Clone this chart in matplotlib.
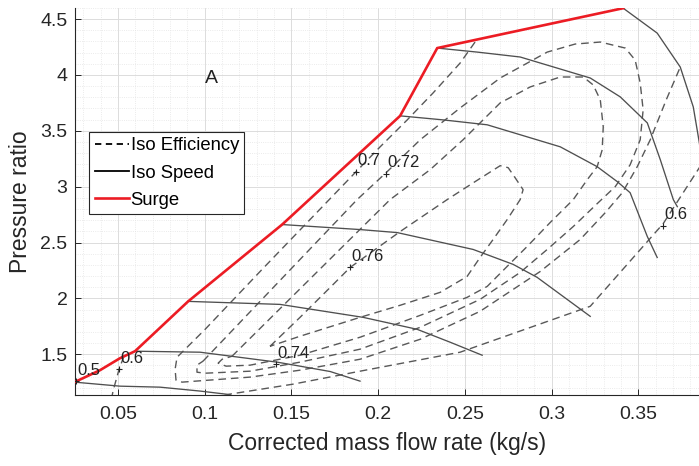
import matplotlib
matplotlib.use("Agg")
import matplotlib.pyplot as plt
from matplotlib.ticker import MultipleLocator

plt.rcParams['font.family'] = ['Liberation Sans', 'DejaVu Sans']

# ---------------- data ----------------
surge_x = [0.025, 0.0397, 0.0512, 0.0599, 0.0905, 0.1447, 0.2127, 0.2341, 0.3413]
surge_y = [1.25, 1.357, 1.464, 1.527, 1.973, 2.661, 3.634, 4.241, 4.598]

speed1_x = [0.025, 0.0512, 0.0743, 0.0974, 0.1147]
speed1_y = [1.25, 1.214, 1.205, 1.170, 1.138]
speed2_x = [0.0599, 0.0974, 0.1418, 0.155, 0.1724, 0.1896]
speed2_y = [1.527, 1.518, 1.429, 1.393, 1.345, 1.259]
speed3_x = [0.0905, 0.1435, 0.1914, 0.2225, 0.2416, 0.2600]
speed3_y = [1.973, 1.946, 1.830, 1.723, 1.607, 1.491]
speed4_x = [0.1447, 0.1896, 0.2110, 0.2548, 0.2779, 0.2917, 0.3223]
speed4_y = [2.661, 2.616, 2.589, 2.438, 2.304, 2.188, 1.839]
speed5_x = [0.2127, 0.2375, 0.2629, 0.3050, 0.3263, 0.3379, 0.3453, 0.3552, 0.3609]
speed5_y = [3.634, 3.598, 3.554, 3.357, 3.179, 3.045, 2.946, 2.554, 2.366]
speed6_x = [0.2341, 0.2571, 0.2819, 0.3223, 0.3396, 0.3552, 0.3627, 0.3702, 0.3725]
speed6_y = [4.241, 4.205, 4.161, 3.973, 3.804, 3.571, 3.241, 2.884, 2.821]
speed7_x = [0.3413, 0.3609, 0.3742, 0.3817, 0.3852, 0.3887]
speed7_y = [4.598, 4.375, 4.071, 3.714, 3.393, 2.99]

eff60a_x = [0.0535, 0.0507, 0.0472, 0.0461]
eff60a_y = [1.482, 1.366, 1.170, 1.080]
eff60b_x = [0.0974, 0.1147, 0.1510, 0.1896, 0.2473, 0.3223, 0.3644, 0.3852, 0.3944]
eff60b_y = [1.080, 1.143, 1.232, 1.348, 1.518, 1.929, 2.670, 3.170, 3.420]

eff70_x = [0.2559, 0.2473, 0.2317, 0.2168, 0.2012, 0.1873, 0.1331, 0.1003, 0.0876,
           0.0841, 0.0830, 0.0835, 0.0870, 0.1262, 0.1550, 0.1896, 0.2243, 0.2588,
           0.2935, 0.3165, 0.3310, 0.3408, 0.3494, 0.3569, 0.3661, 0.3742]
eff70_y = [4.295, 4.107, 3.839, 3.598, 3.357, 3.134, 2.259, 1.723, 1.527,
           1.473, 1.366, 1.268, 1.25, 1.295, 1.357, 1.455, 1.634, 1.884,
           2.241, 2.527, 2.768, 2.946, 3.179, 3.420, 3.777, 4.071]

eff72_x = [0.0991, 0.1879, 0.2046, 0.2243, 0.2473, 0.2704, 0.2975, 0.3136, 0.3281,
           0.3425, 0.3482, 0.3511, 0.3528, 0.3511, 0.3453, 0.3367, 0.3263, 0.3125,
           0.2975, 0.2819, 0.2588, 0.2243, 0.1896, 0.1550, 0.1262, 0.1003, 0.0956,
           0.0956, 0.0991]
eff72_y = [1.438, 2.884, 3.125, 3.420, 3.705, 3.973, 4.205, 4.277, 4.295,
           4.241, 4.134, 3.929, 3.688, 3.420, 3.196, 3.0, 2.848, 2.643,
           2.438, 2.232, 1.991, 1.741, 1.545, 1.429, 1.348, 1.330, 1.339,
           1.402, 1.438]

eff74_x = [0.1158, 0.2069, 0.2300, 0.2490, 0.2704, 0.2877, 0.3050, 0.3183, 0.3240,
           0.3281, 0.3298, 0.3292, 0.3263, 0.3206, 0.3125, 0.2992, 0.2859, 0.2744,
           0.2629, 0.2513, 0.2243, 0.1896, 0.1550, 0.1262, 0.1124, 0.1078, 0.1101,
           0.1158]
eff74_y = [1.482, 2.884, 3.152, 3.420, 3.750, 3.893, 3.982, 3.982, 3.911,
           3.777, 3.536, 3.330, 3.179, 3.063, 2.884, 2.679, 2.464, 2.286,
           2.107, 2.009, 1.848, 1.652, 1.491, 1.402, 1.393, 1.420, 1.455,
           1.482]

eff76_x = [0.1377, 0.1550, 0.1724, 0.1839, 0.2127, 0.2398, 0.2559, 0.2704, 0.2750,
           0.2790, 0.2836, 0.2819, 0.2744, 0.2663, 0.2588, 0.2513, 0.2358, 0.2127,
           0.1896, 0.1550, 0.1377]
eff76_y = [1.571, 1.830, 2.098, 2.277, 2.598, 2.884, 3.045, 3.188, 3.170,
           3.080, 2.973, 2.884, 2.705, 2.527, 2.366, 2.196, 2.054, 1.938,
           1.830, 1.661, 1.571]

eff_labels = ['0.5', '0.6', '0.7', '0.72', '0.74', '0.76', '0.6']
eff_label_x = [0.0259, 0.0507, 0.1873, 0.2046, 0.1412, 0.1839, 0.3644]
eff_label_y = [1.259, 1.366, 3.134, 3.116, 1.411, 2.277, 2.652]

x_ticks = [0.05, 0.1, 0.15, 0.2, 0.25, 0.3, 0.35]
x_ticklabels = ['0.05', '0.1', '0.15', '0.2', '0.25', '0.3', '0.35']
y_ticks = [1.5, 2, 2.5, 3, 3.5, 4, 4.5]
y_ticklabels = ['1.5', '2', '2.5', '3', '3.5', '4', '4.5']

# ---------------- figure ----------------
fig = plt.figure(figsize=(6.99, 4.66), dpi=100)
ax = fig.add_axes([0.1066, 0.1524, 0.8934, 0.8305])

dash_col = '#585858'
dash_style = dict(color=dash_col, lw=1.0, linestyle=(0, (5.5, 3.5)), zorder=3)
for xs, ys in [(eff60a_x, eff60a_y), (eff60b_x, eff60b_y), (eff70_x, eff70_y),
               (eff72_x, eff72_y), (eff74_x, eff74_y), (eff76_x, eff76_y)]:
    ax.plot(xs, ys, **dash_style)

speed_col = '#4f4f4f'
for xs, ys in [(speed1_x, speed1_y), (speed2_x, speed2_y), (speed3_x, speed3_y),
               (speed4_x, speed4_y), (speed5_x, speed5_y), (speed6_x, speed6_y),
               (speed7_x, speed7_y)]:
    ax.plot(xs, ys, color=speed_col, lw=0.95, zorder=4)

ax.plot(surge_x, surge_y, color='#ec1c24', lw=1.9, zorder=5)

# legend proxies
ax.plot([], [], color='black', lw=1.3, linestyle=(0, (3.5, 2.5)), label='Iso Efficiency')
ax.plot([], [], color='black', lw=1.3, label='Iso Speed')
ax.plot([], [], color='#ec1c24', lw=1.9, label='Surge')

# efficiency labels with + markers
ax.plot(eff_label_x, eff_label_y, linestyle='none', marker='+', ms=4, mew=0.8,
        color='#222222', zorder=6)
for t, lx, ly in zip(eff_labels, eff_label_x, eff_label_y):
    ax.annotate(t, (lx, ly), xytext=(1, 8), textcoords='offset points',
                fontsize=12, color='#222222', ha='left', va='center', zorder=7)

ax.text(0.220, 0.819, 'A', transform=ax.transAxes, fontsize=14,
        ha='center', va='center', color='#222222')

ax.set_xlim(0.025, 0.385)
ax.set_ylim(1.135, 4.6)
ax.set_xticks(x_ticks)
ax.set_xticklabels(x_ticklabels)
ax.set_yticks(y_ticks)
ax.set_yticklabels(y_ticklabels)
ax.xaxis.set_minor_locator(MultipleLocator(0.01))
ax.yaxis.set_minor_locator(MultipleLocator(0.1))

ax.grid(which='major', color='#dcdcdc', lw=0.7, linestyle='-', zorder=0)
ax.grid(which='minor', color='#e4e4e4', lw=0.6, linestyle=':', zorder=0)
ax.set_axisbelow(True)

for s in ['top', 'right']:
    ax.spines[s].set_visible(False)
for s in ['left', 'bottom']:
    ax.spines[s].set_color('#262626')
    ax.spines[s].set_linewidth(0.8)

ax.tick_params(which='major', direction='in', length=4.5, width=0.7,
               colors='#262626', labelsize=14, labelcolor='#262626')
ax.tick_params(axis='x', which='major', pad=8)
ax.tick_params(axis='y', which='major', pad=5)
ax.tick_params(which='minor', direction='in', length=0, width=0.5)

ax.set_xlabel('Corrected mass flow rate (kg/s)', fontsize=16.5, color='#262626', labelpad=6.5)
ax.set_ylabel('Pressure ratio', fontsize=16.5, color='#262626', labelpad=6)

leg = ax.legend(loc='upper left', bbox_to_anchor=(0.0232, 0.680), borderaxespad=0,
                fontsize=13.3, handlelength=1.85, handletextpad=0.1,
                labelspacing=0.55, borderpad=0.3, fancybox=False, framealpha=1,
                edgecolor='#262626')
leg.get_frame().set_linewidth(0.8)

fig.savefig('out.png', dpi=100)
